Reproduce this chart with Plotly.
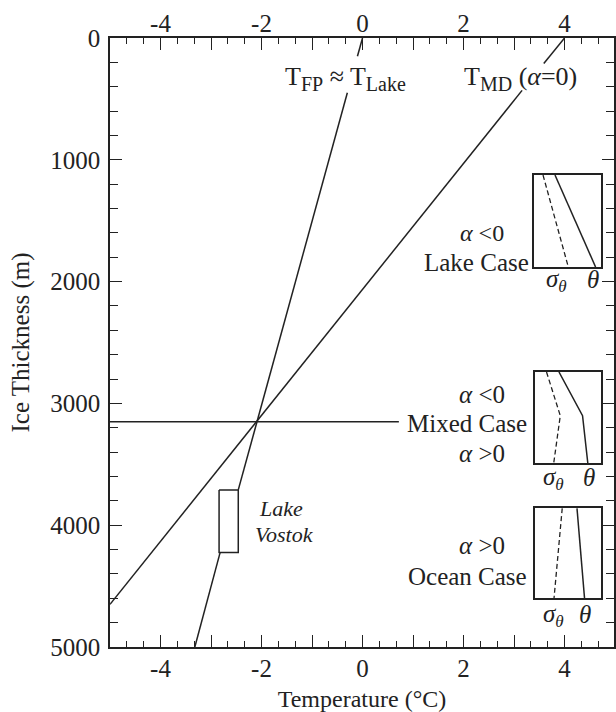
import plotly.graph_objects as go

# ---- data ----
# freezing point line T_FP ~ T_Lake (gaps for label and Lake Vostok box)
fp_temp = [0.0, -0.10, None, -0.30, -2.46, None, -2.82, -3.32]
fp_depth = [0, 150, None, 450, 3710, None, 4225, 5000]
# temperature of maximum density line T_MD (alpha = 0), gap for label
md_temp = [4.0, 3.59, None, 3.16, -5.0]
md_depth = [0, 210, None, 430, 4650]
# horizontal crossing depth line
cross_temp = [-5.0, 0.72]
cross_depth = [3150, 3150]
# Lake Vostok box
box_temp = [-2.84, -2.46, -2.46, -2.84, -2.84]
box_depth = [3710, 3710, 4225, 4225, 3710]

# inset schematic profiles (normalised inset coordinates, depth 0=top, 1=bottom)
lake_depth = [0, 1]
lake_sigma = [0.13, 0.51]
lake_theta = [0.31, 0.92]
mixed_depth = [0, 0.48, 1]
mixed_sigma = [0.17, 0.38, 0.28]
mixed_theta = [0.36, 0.72, 0.80]
ocean_depth = [0, 1]
ocean_sigma = [0.41, 0.285]
ocean_theta = [0.635, 0.75]

x_major_ticks = [-4, -3, -2, -1, 0, 1, 2, 3, 4]
x_label_vals = [-4, -2, 0, 2, 4]
x_label_text = ["-4", "-2", "0", "2", "4"]
y_tickvals = [0, 1000, 2000, 3000, 4000, 5000]
y_ticktext = ["0", "1000", "2000", "3000", "4000", "5000"]

INK = "#222222"
FONT = "Liberation Serif"
TFS = 25   # tick font size
AFS = 25   # annotation font size

fig = go.Figure()
line_style = dict(color=INK, width=1.5)
fig.add_trace(go.Scatter(x=fp_temp, y=fp_depth, mode="lines", line=line_style,
                         connectgaps=False, showlegend=False, hoverinfo="skip"))
fig.add_trace(go.Scatter(x=md_temp, y=md_depth, mode="lines", line=line_style,
                         connectgaps=False, showlegend=False, hoverinfo="skip"))
fig.add_trace(go.Scatter(x=cross_temp, y=cross_depth, mode="lines", line=line_style,
                         showlegend=False, hoverinfo="skip"))
fig.add_trace(go.Scatter(x=box_temp, y=box_depth, mode="lines", line=line_style,
                         showlegend=False, hoverinfo="skip"))
# invisible traces to carry the labelled top/bottom axes
fig.add_trace(go.Scatter(x=[0], y=[0], xaxis="x2", yaxis="y", mode="markers",
                         marker=dict(opacity=0), showlegend=False, hoverinfo="skip"))
fig.add_trace(go.Scatter(x=[0], y=[0], xaxis="x6", yaxis="y", mode="markers",
                         marker=dict(opacity=0), showlegend=False, hoverinfo="skip"))

insets = [
    ("x3", "y3", lake_depth, lake_sigma, lake_theta),
    ("x4", "y4", mixed_depth, mixed_sigma, mixed_theta),
    ("x5", "y5", ocean_depth, ocean_sigma, ocean_theta),
]
for xa, ya, d, s, t in insets:
    fig.add_trace(go.Scatter(x=s, y=d, xaxis=xa, yaxis=ya, mode="lines",
                             line=dict(color=INK, width=1.3, dash="5px,3px"),
                             showlegend=False, hoverinfo="skip"))
    fig.add_trace(go.Scatter(x=t, y=d, xaxis=xa, yaxis=ya, mode="lines",
                             line=dict(color=INK, width=1.5),
                             showlegend=False, hoverinfo="skip"))

tickfont = dict(family=FONT, size=TFS, color=INK)
XR = [-5, 4.98]

layout = dict(
    width=616, height=712,
    margin=dict(l=110, r=0, t=38, b=65),
    paper_bgcolor="white", plot_bgcolor="white",
    font=dict(family=FONT, size=TFS, color=INK),
    xaxis=dict(range=XR, tickmode="array", tickvals=x_major_ticks,
               showticklabels=False, showgrid=False, zeroline=False,
               ticks="inside", ticklen=12, tickwidth=1.3, tickcolor=INK,
               mirror="ticks", showline=True, linecolor=INK, linewidth=1.5,
               minor=dict(dtick=1/3, tick0=0, ticks="inside", ticklen=6,
                          tickwidth=1.3, tickcolor=INK)),
    xaxis2=dict(range=XR, overlaying="x", side="top", tickmode="array",
                tickvals=x_label_vals, ticktext=x_label_text, tickfont=tickfont,
                ticks="", showline=False, showgrid=False, zeroline=False),
    xaxis6=dict(range=XR, overlaying="x", side="bottom", tickmode="array",
                tickvals=x_label_vals, ticktext=x_label_text, tickfont=tickfont,
                ticks="", showline=False, showgrid=False, zeroline=False,
                ticklabelstandoff=4,
                title=dict(text="Temperature (°C)", standoff=9,
                           font=dict(family=FONT, size=24, color=INK))),
    yaxis=dict(range=[5000, 0], tickmode="array", tickvals=y_tickvals,
               ticktext=y_ticktext, tickfont=tickfont,
               showgrid=False, zeroline=False,
               ticks="inside", ticklen=12, tickwidth=1.3, tickcolor=INK,
               mirror="ticks", showline=True, linecolor=INK, linewidth=1.5,
               ticklabelstandoff=3,
               minor=dict(dtick=200, tick0=0, ticks="inside", ticklen=8,
                          tickwidth=1.3, tickcolor=INK),
               title=dict(text="Ice Thickness (m)", standoff=14,
                          font=dict(family=FONT, size=25, color=INK))),
)

inset_domains = [
    ([0.842, 0.974], [0.624, 0.775]),
    ([0.844, 0.974], [0.302, 0.4516]),
    ([0.844, 0.974], [0.0805, 0.228]),
]
for i, (xd, yd) in enumerate(inset_domains):
    n = i + 3
    layout[f"xaxis{n}"] = dict(domain=xd, anchor=f"y{n}", range=[0, 1],
                               showgrid=False, zeroline=False, showticklabels=False,
                               ticks="", showline=True, mirror=True,
                               linecolor=INK, linewidth=1.5)
    layout[f"yaxis{n}"] = dict(domain=yd, anchor=f"x{n}", range=[1, 0],
                               showgrid=False, zeroline=False, showticklabels=False,
                               ticks="", showline=True, mirror=True,
                               linecolor=INK, linewidth=1.5)

fig.update_layout(**layout)


def ann(text, x, y, xref="x", yref="y", xanchor="center", size=AFS, italic=False):
    fig.add_annotation(text=text, x=x, y=y, xref=xref, yref=yref,
                       xanchor=xanchor, yanchor="middle", showarrow=False,
                       font=dict(family=FONT, size=size, color=INK,
                                 style="italic" if italic else "normal"))


def sub(txt, size=20, shift=6):
    return f'<span style="font-size:{size}px;baseline-shift:-{shift}px">{txt}</span>'


ann("T" + sub("FP") + " ≈ T" + sub("Lake"), -0.33, 335, size=26)
ann("T" + sub("MD") + " (<i>α</i>=0)", 3.13, 335, size=26)
ann("Lake", -1.62, 3860, size=22, italic=True)
ann("Vostok", -1.54, 4075, size=22, italic=True)

ann("<i>α</i> &lt;0", 2.36, 1605, size=24)
ann("Lake Case", 3.33, 1840, xanchor="right")
ann("<i>α</i> &lt;0", 2.36, 2925)
ann("Mixed Case", 3.29, 3169, xanchor="right")
ann("<i>α</i> &gt;0", 2.36, 3415)
ann("<i>α</i> &gt;0", 2.36, 4170)
ann("Ocean Case", 3.29, 4420, xanchor="right")

# inset bottom labels (x in inset data units, y in inset domain fraction)
label_pos = [(3, 0.33, 0.88, -0.15), (4, 0.28, 0.82, -0.17), (5, 0.27, 0.76, -0.19)]
for n, sx, tx, yy in label_pos:
    ann("<i>σ</i>" + sub("<i>θ</i>", 17, 5), sx, yy, xref=f"x{n}", yref=f"y{n} domain")
    ann("<i>θ</i>", tx, yy + 0.01, xref=f"x{n}", yref=f"y{n} domain")

fig.write_html("out.html", config={"displayModeBar": False},
               post_script="document.body.style.margin='0px';")
